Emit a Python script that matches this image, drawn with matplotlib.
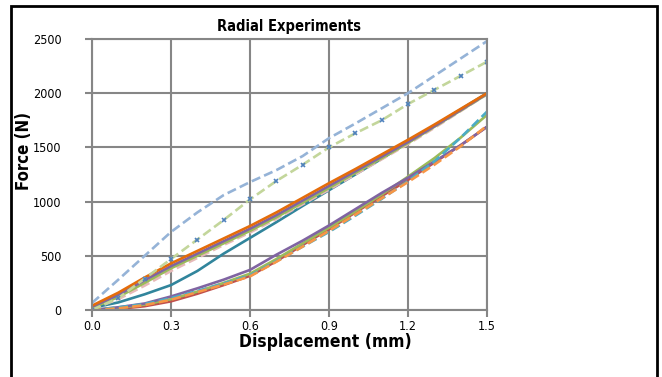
import numpy as np
import matplotlib.pyplot as plt
from matplotlib.patches import Rectangle

# displacement steps (mm)
disp = [0.0, 0.1, 0.2, 0.3, 0.4, 0.5, 0.6, 0.7, 0.8, 0.9, 1.0, 1.1, 1.2, 1.3, 1.4, 1.5]

# force readings (N), one list per test
blue_dash = [65, 280, 500, 720, 900, 1060, 1180, 1290, 1420, 1585, 1720, 1860, 2000, 2160, 2320, 2480]
green_dash = [0, 110, 290, 470, 650, 830, 1020, 1190, 1340, 1500, 1630, 1750, 1900, 2030, 2160, 2290]
orange_solid = [40, 160, 300, 430, 545, 660, 775, 900, 1035, 1170, 1300, 1435, 1570, 1710, 1855, 2000]
purple_up = [30, 140, 275, 405, 520, 635, 750, 875, 1010, 1145, 1280, 1415, 1550, 1695, 1845, 1995]
olive_up = [20, 120, 250, 385, 500, 615, 730, 855, 990, 1125, 1265, 1400, 1540, 1690, 1840, 1990]
pink_dash = [10, 100, 225, 360, 480, 600, 715, 840, 975, 1110, 1250, 1390, 1530, 1680, 1835, 1990]
teal = [20, 70, 145, 230, 360, 520, 665, 810, 960, 1105, 1250, 1395, 1545, 1700, 1850, 2000]
purple_low = [0, 25, 60, 125, 200, 280, 370, 510, 640, 780, 930, 1080, 1220, 1370, 1520, 1690]
red_low = [0, 10, 35, 80, 150, 230, 315, 450, 600, 745, 900, 1050, 1200, 1360, 1520, 1690]
green_low = [0, 20, 50, 100, 170, 250, 335, 470, 615, 760, 910, 1065, 1230, 1400, 1590, 1800]
cyan_dash = [0, 25, 55, 110, 175, 245, 320, 450, 585, 720, 870, 1025, 1190, 1370, 1590, 1830]
orange_dash = [0, 15, 45, 95, 165, 235, 310, 445, 585, 730, 880, 1030, 1180, 1340, 1510, 1700]

x_ticks = [0.0, 0.3, 0.6, 0.9, 1.2, 1.5]
y_ticks = [0, 500, 1000, 1500, 2000, 2500]

fam = 'DejaVu Sans'
cond = 'condensed'

fig = plt.figure(figsize=(6.62, 3.77), dpi=100)
ax = fig.add_axes([0.139, 0.1777, 0.5967, 0.719])

lw = 1.9
dash = (3.5, 1.6)
ax.plot(disp, red_low, color='#C0504D', lw=lw)
ax.plot(disp, green_low, color='#9BBB59', lw=lw)
ax.plot(disp, purple_low, color='#8064A2', lw=lw)
ax.plot(disp, cyan_dash, color='#4BACC6', lw=lw, dashes=dash)
ax.plot(disp, orange_dash, color='#F79646', lw=lw, dashes=dash)
ax.plot(disp, teal, color='#31859C', lw=lw)
ax.plot(disp, pink_dash, color='#E6B9B8', lw=lw, dashes=dash)
ax.plot(disp, olive_up, color='#9BBB59', lw=lw)
ax.plot(disp, purple_up, color='#8064A2', lw=lw)
ax.plot(disp, orange_solid, color='#E46C0A', lw=lw)
ax.plot(disp, green_dash, color='#C3D69B', lw=lw, dashes=dash,
        marker='x', ms=2.5, mec='#4F81BD', mew=1.2)
ax.plot(disp, blue_dash, color='#95B3D7', lw=lw, dashes=dash)

ax.set_xlim(0, 1.5)
ax.set_ylim(0, 2500)
ax.set_xticks(x_ticks)
ax.set_yticks(y_ticks)
ax.set_xticklabels(['%.1f' % v for v in x_ticks], family=fam, fontstretch=cond, fontsize=9)
ax.set_yticklabels([str(v) for v in y_ticks], family=fam, fontstretch=cond, fontsize=9)
ax.tick_params(axis='both', color='#868686', width=1.5, length=5)
ax.tick_params(axis='y', pad=17)
ax.tick_params(axis='x', pad=2)
ax.grid(True, color='#868686', lw=1.5)
ax.set_axisbelow(True)
for s in ax.spines.values():
    s.set_color('#868686')
    s.set_linewidth(1.5)

fig.text(0.437, 0.931, 'Radial Experiments', ha='center', va='center',
         fontsize=10.5, fontweight='bold', family=fam, fontstretch=cond)
fig.text(0.492, 0.092, 'Displacement (mm)', ha='center', va='center',
         fontsize=12.5, fontweight='bold', family=fam, fontstretch=cond)
fig.text(0.036, 0.60, 'Force (N)', ha='center', va='center', rotation=90,
         fontsize=12, fontweight='bold', family=fam, fontstretch=cond)

fig.patches.append(Rectangle((11 / 662, -0.05), 646 / 662, 1 - 6 / 377 + 0.05,
                             transform=fig.transFigure, fill=False,
                             edgecolor='black', lw=2, clip_on=False))

fig.savefig('out.png', dpi=100)
